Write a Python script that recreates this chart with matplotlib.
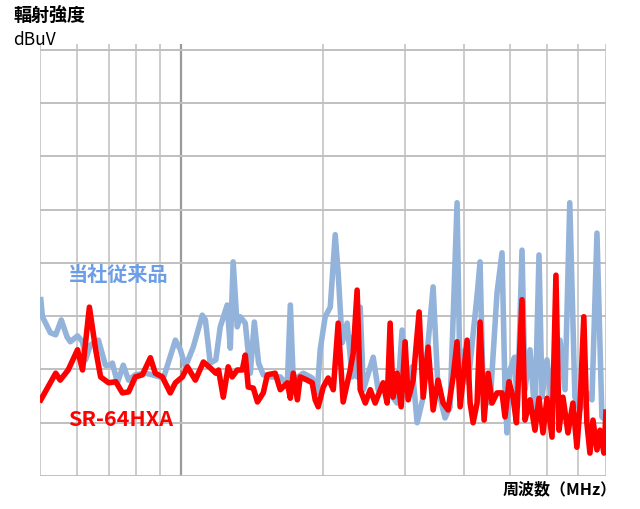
import matplotlib
matplotlib.use("Agg")
import matplotlib.pyplot as plt
from matplotlib.ticker import NullFormatter, FixedLocator

plt.rcParams['font.family'] = ['Noto Sans CJK JP', 'DejaVu Sans']

blue_f = [50.2,50.6,52.6,54.0,55.5,57.1,58.0,60.1,61.6,62.5,64.0,66.6,68.9,70.7,71.3,73.1,75.2,77.2,79.8,83.8,86.7,91.6,97.1,99.5,102.0,106.0,110.8,112.5,115.2,118.4,121.0,125.2,127.1,128.9,131.5,133.4,136.8,140.2,143.0,146.0,149.4,154.6,162.4,168.1,170.6,173.1,181.8,189.9,194.6,197.5,202.4,207.5,212.6,215.7,220.0,225.4,231.0,232.2,236.7,240.3,244.1,256.1,262.4,274.2,287.9,295.1,302.3,310.0,317.7,327.2,343.6,352.0,364.3,373.4,386.4,392.2,398.0,402.0,408.0,427.3,432.5,438.9,454.3,470.0,481.7,488.7,493.5,501.0,512.2,519.5,531.3,539.1,552.5,566.1,577.4,586.0,600.4,615.4,640.0,656.0,671.4,688.6,705.8,730.1,748.6,767.2,786.1,801.5]
blue_db = [33.1,29.9,26.9,26.5,29.3,26.1,25.2,26.3,25.2,21.8,24.6,25.5,20.8,20.8,21.2,17.5,20.8,18.0,19.0,19.3,19.0,18.4,25.5,23.7,20.5,24.2,30.2,29.3,21.2,21.8,28.0,32.1,24.0,40.2,28.0,29.9,28.7,19.3,28.9,21.2,19.0,18.6,18.6,17.1,32.1,18.0,19.3,18.4,15.6,23.7,29.9,31.7,45.3,38.1,25.0,28.7,18.6,26.1,18.6,31.7,16.2,22.3,16.2,16.2,13.7,27.4,14.8,20.5,10.0,14.8,35.5,16.2,10.9,13.0,51.3,16.2,23.1,23.7,17.5,34.9,40.2,16.2,13.7,34.4,41.9,16.2,8.1,19.9,22.3,13.0,42.4,16.2,23.7,11.1,41.5,14.8,21.8,13.0,25.5,16.2,51.3,14.8,12.4,15.6,14.3,45.6,11.1,10.5]

red_f = [50.2,54.0,55.2,57.4,60.1,61.6,63.7,65.7,67.3,70.0,72.5,74.9,77.2,79.8,82.6,85.9,88.0,91.1,94.7,97.1,100.5,103.0,107.1,111.4,115.2,118.4,120.0,122.8,125.8,128.3,131.5,134.8,136.8,138.8,142.3,145.2,149.4,152.4,158.4,162.4,168.1,170.6,173.1,176.6,179.1,185.3,189.9,192.7,195.6,200.5,205.4,210.6,215.7,221.0,228.8,232.2,236.7,240.3,246.4,252.4,258.6,268.9,274.2,278.3,282.4,287.9,293.7,299.5,304.0,311.5,320.8,327.2,335.3,343.6,352.0,360.8,369.7,379.0,386.4,392.2,405.9,411.9,418.0,426.2,432.5,441.1,449.9,458.7,470.0,481.7,488.7,498.5,508.3,517.0,531.3,539.1,552.5,566.1,577.4,588.8,600.4,615.4,627.4,636.9,649.4,665.5,681.9,695.3,705.8,719.3,730.1,741.2,752.3,767.2,778.5,793.9,801.7]
red_db = [14.3,19.3,18.0,19.9,23.7,19.9,31.7,23.7,18.6,17.5,17.7,15.6,15.8,18.6,19.0,22.2,19.3,18.6,15.6,17.5,18.6,20.5,18.0,21.4,20.3,19.3,19.9,14.8,20.5,18.6,19.9,19.9,22.7,16.7,16.5,13.9,15.6,19.0,19.3,16.2,17.5,14.6,19.3,14.3,18.6,18.0,17.5,14.3,13.0,16.7,18.4,16.2,28.7,13.9,19.9,23.1,34.9,16.2,13.7,16.2,13.7,17.5,13.7,28.7,14.8,19.3,13.0,25.2,14.3,18.0,30.8,14.8,24.2,12.4,18.0,13.7,12.4,18.6,25.2,13.0,25.5,13.7,10.0,13.7,28.9,10.5,19.3,13.7,15.6,15.6,11.1,17.7,14.8,10.0,33.1,10.5,14.3,8.6,14.6,8.1,14.6,7.3,37.7,8.6,14.8,8.1,13.7,5.4,13.0,29.9,10.0,4.3,10.5,4.9,8.6,4.3,12.0]

x_grid = [50,60,70,80,90,100,200,300,400,500,600,700,800]
y_grid = [0,10,20,30,40,50,60,70,80]

fig = plt.figure(figsize=(6.4,5.09), dpi=100)
ax = fig.add_axes([0.0625, 0.0648, 0.8844, 0.8488])
ax.set_xscale('log')
ax.set_xlim(50, 802)
ax.set_ylim(0, 81.1)
for s in ax.spines.values():
    s.set_visible(False)
for xv in x_grid:
    ax.axvline(xv, color='#9a9a9a' if xv == 100 else '#c8c8c8', lw=1.6 if xv == 100 else 1.3, zorder=1)
for yv in y_grid:
    ax.axhline(yv, color='#c0c0c0', lw=1.4, zorder=1)
ax.xaxis.set_major_locator(FixedLocator([]))
ax.xaxis.set_minor_locator(FixedLocator([]))
ax.set_yticks([])
ax.xaxis.set_minor_formatter(NullFormatter())

ax.plot(blue_f, blue_db, color='#93b3da', lw=4, zorder=2, solid_joinstyle='round')
ax.plot(red_f, red_db, color='#ff0000', lw=4, zorder=3, solid_joinstyle='round')

fig.text(13/640, 1-15/509, '輻射強度', fontsize=13, fontweight='bold', va='center', ha='left')
fig.text(13/640, 1-40/509, 'dBuV', fontsize=12.5, va='center', ha='left')
fig.text(68/640, 1-274/509, '当社従来品', fontsize=14.5, fontweight='bold', color='#6b9de8', va='center', ha='left')
fig.text(68/640, 1-420/509, 'SR-64HXA', fontsize=15.5, fontweight='bold', color='#ff0000', va='center', ha='left')
fig.text(503/640, 1-489/509, '周波数（MHz）', fontsize=11.5, fontweight='bold', va='center', ha='left')

fig.savefig('out.png', dpi=100)
